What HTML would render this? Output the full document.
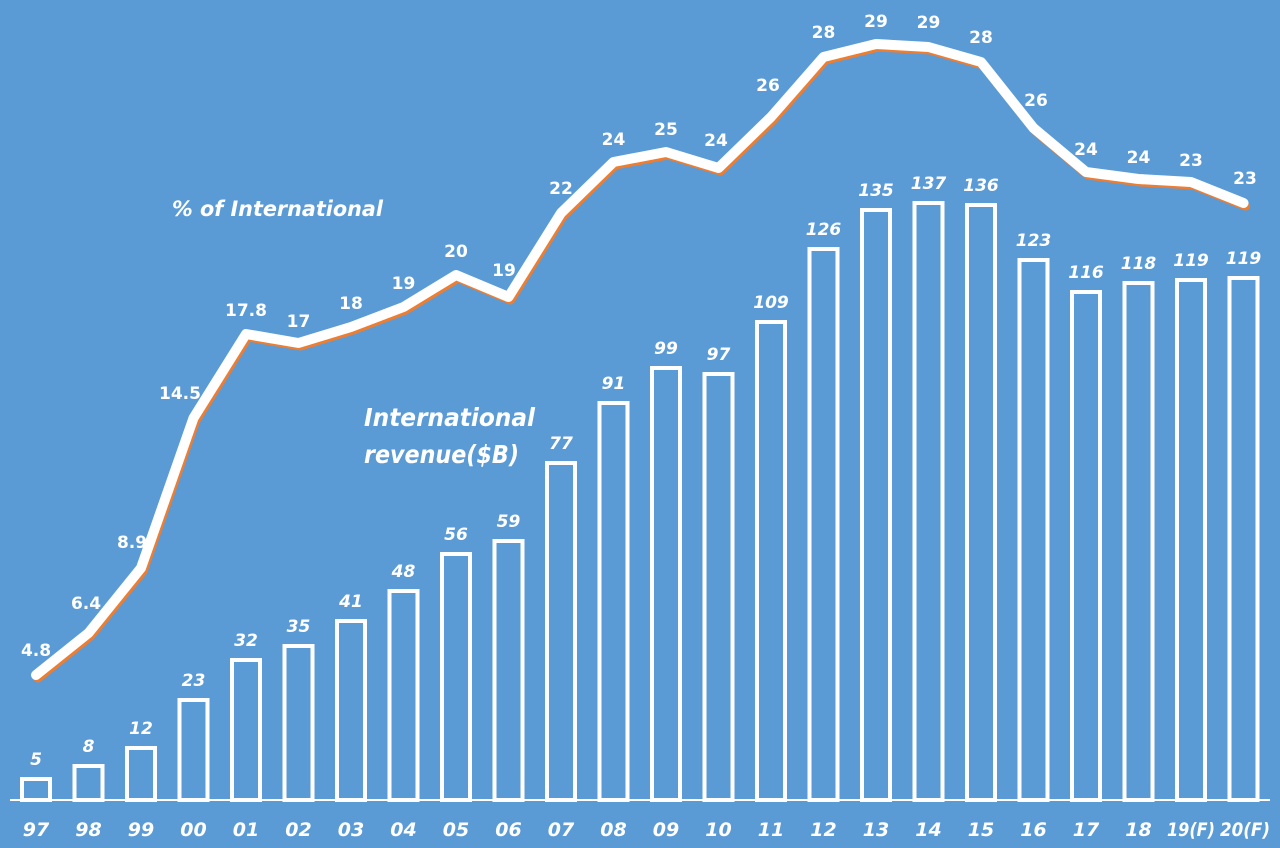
<!DOCTYPE html>
<html><head><meta charset="utf-8"><style>
html,body{margin:0;padding:0;background:#5B9BD5;}
svg{display:block;font-family:"DejaVu Sans","Liberation Sans",sans-serif;}
</style></head><body>
<svg width="1280" height="848" viewBox="0 0 1280 848">
<rect width="1280" height="848" fill="#5B9BD5"/>
<line x1="10" y1="800" x2="1270" y2="800" stroke="#fff" stroke-width="2"/>
<g fill="none" stroke="#fff" stroke-width="4">
<rect x="22" y="779" width="28" height="21"/>
<rect x="74.5" y="766" width="28" height="34"/>
<rect x="127" y="748" width="28" height="52"/>
<rect x="179.5" y="700" width="28" height="100"/>
<rect x="232" y="660" width="28" height="140"/>
<rect x="284.5" y="646" width="28" height="154"/>
<rect x="337" y="621" width="28" height="179"/>
<rect x="389.5" y="591" width="28" height="209"/>
<rect x="442" y="554" width="28" height="246"/>
<rect x="494.5" y="541" width="28" height="259"/>
<rect x="547" y="463" width="28" height="337"/>
<rect x="599.5" y="403" width="28" height="397"/>
<rect x="652" y="368" width="28" height="432"/>
<rect x="704.5" y="374" width="28" height="426"/>
<rect x="757" y="322" width="28" height="478"/>
<rect x="809.5" y="249" width="28" height="551"/>
<rect x="862" y="210" width="28" height="590"/>
<rect x="914.5" y="203" width="28" height="597"/>
<rect x="967" y="205" width="28" height="595"/>
<rect x="1019.5" y="260" width="28" height="540"/>
<rect x="1072" y="292" width="28" height="508"/>
<rect x="1124.5" y="283" width="28" height="517"/>
<rect x="1177" y="280" width="28" height="520"/>
<rect x="1229.5" y="278" width="28" height="522"/>
</g>
<g fill="#fff" font-size="17" font-weight="bold" font-style="italic" text-anchor="middle">
<text x="36" y="765">5</text><text x="88.5" y="752">8</text><text x="141" y="734">12</text><text x="193.5" y="686">23</text>
<text x="246" y="646">32</text><text x="298.5" y="632">35</text><text x="351" y="607">41</text><text x="403.5" y="577">48</text>
<text x="456" y="540">56</text><text x="508.5" y="527">59</text><text x="561" y="449">77</text><text x="613.5" y="389">91</text>
<text x="666" y="354">99</text><text x="718.5" y="360">97</text><text x="771" y="308">109</text><text x="823.5" y="235">126</text>
<text x="876" y="196">135</text><text x="928.5" y="189">137</text><text x="981" y="191">136</text><text x="1033.5" y="246">123</text>
<text x="1086" y="278">116</text><text x="1138.5" y="269">118</text><text x="1191" y="266">119</text><text x="1243.5" y="264">119</text>
</g>
<g fill="#fff" font-size="19" font-weight="bold" font-style="italic" text-anchor="middle">
<text x="36" y="836">97</text><text x="88.5" y="836">98</text><text x="141" y="836">99</text><text x="193.5" y="836">00</text>
<text x="246" y="836">01</text><text x="298.5" y="836">02</text><text x="351" y="836">03</text><text x="403.5" y="836">04</text>
<text x="456" y="836">05</text><text x="508.5" y="836">06</text><text x="561" y="836">07</text><text x="613.5" y="836">08</text>
<text x="666" y="836">09</text><text x="718.5" y="836">10</text><text x="771" y="836">11</text><text x="823.5" y="836">12</text>
<text x="876" y="836">13</text><text x="928.5" y="836">14</text><text x="981" y="836">15</text><text x="1033.5" y="836">16</text>
<text x="1086" y="836">17</text><text x="1138.5" y="836">18</text><text x="1191" y="836" textLength="48" lengthAdjust="spacingAndGlyphs">19(F)</text><text x="1245" y="836" textLength="50" lengthAdjust="spacingAndGlyphs">20(F)</text>
</g>
<polyline fill="none" stroke="#ED7D31" stroke-width="9" stroke-linejoin="round" stroke-linecap="round" transform="translate(2,3)" points="36,675 88.5,633 141,568 193.5,418 246,334 298.5,343 351,327 403.5,307 456,275 508.5,297 561,213 613.5,162 666,152 718.5,168 771,117 823.5,57 876,44 928.5,47 981,62 1033.5,128 1086,172 1138.5,179 1191,182 1243.5,203"/>
<polyline fill="none" stroke="#fff" stroke-width="10" stroke-linejoin="round" stroke-linecap="round" points="36,675 88.5,633 141,568 193.5,418 246,334 298.5,343 351,327 403.5,307 456,275 508.5,297 561,213 613.5,162 666,152 718.5,168 771,117 823.5,57 876,44 928.5,47 981,62 1033.5,128 1086,172 1138.5,179 1191,182 1243.5,203"/>
<g fill="#fff" font-size="17" font-weight="bold" text-anchor="middle">
<text x="36" y="656">4.8</text><text x="86" y="609">6.4</text><text x="132" y="548">8.9</text><text x="180" y="399">14.5</text>
<text x="246" y="316">17.8</text><text x="298.5" y="327">17</text><text x="351" y="309">18</text><text x="403.5" y="289">19</text>
<text x="456" y="257">20</text><text x="504" y="276">19</text><text x="561" y="194">22</text><text x="613.5" y="145">24</text>
<text x="666" y="135">25</text><text x="716" y="146">24</text><text x="768" y="91">26</text><text x="823.5" y="38">28</text>
<text x="876" y="27">29</text><text x="928.5" y="28">29</text><text x="981" y="43">28</text><text x="1036" y="106">26</text>
<text x="1086" y="155">24</text><text x="1138.5" y="163">24</text><text x="1191" y="166">23</text><text x="1245" y="184">23</text>
</g>
<g fill="#fff" font-weight="bold" font-style="italic">
<text x="172" y="216" font-size="21" textLength="211" lengthAdjust="spacingAndGlyphs">% of International</text>
<text x="364" y="426" font-size="25" textLength="171" lengthAdjust="spacingAndGlyphs">International</text>
<text x="364" y="463" font-size="25" textLength="155" lengthAdjust="spacingAndGlyphs">revenue($B)</text>
</g>
</svg>
</body></html>
